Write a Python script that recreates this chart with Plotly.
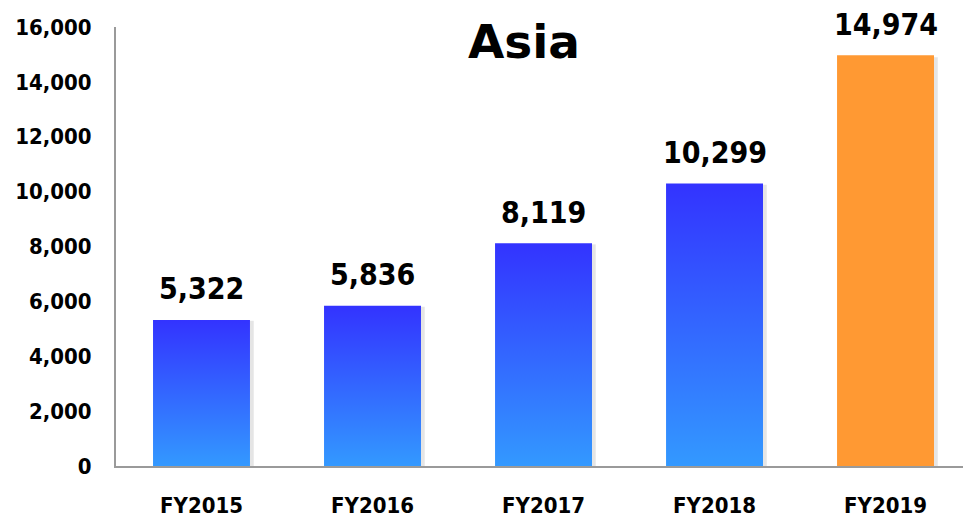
import plotly.graph_objects as go

categories = ["FY2015", "FY2016", "FY2017", "FY2018", "FY2019"]
values = [5322, 5836, 8119, 10299, 14974]
highlight = [False, False, False, False, True]
title_text = "Asia"
y_ticks = [0, 2000, 4000, 6000, 8000, 10000, 12000, 14000, 16000]

BAR_W = 0.567
COND = "DejaVu Sans Condensed, DejaVu Sans, sans-serif"

fig = go.Figure()

for i, (cat, v, hl) in enumerate(zip(categories, values, highlight)):
    x0, x1 = i - BAR_W / 2, i + BAR_W / 2
    # soft shadow
    fig.add_trace(go.Scatter(
        x=[x1, x1 + 0.022, x1 + 0.022, x1, x1], y=[0, 0, v * 0.995, v * 0.995, 0],
        fill="toself", fillcolor="rgba(0,0,0,0.10)", line=dict(width=0),
        mode="lines", hoverinfo="skip", showlegend=False))
    if hl:
        fig.add_trace(go.Bar(x=[i], y=[v], width=BAR_W, marker=dict(color="#FF9933", line=dict(width=0)),
                             showlegend=False, name=cat))
    else:
        fig.add_trace(go.Scatter(
            x=[x0, x1, x1, x0, x0], y=[0, 0, v, v, 0],
            fill="toself", mode="lines", line=dict(width=0),
            fillgradient=dict(type="vertical", colorscale=[[0, "#3399FF"], [0.5, "#3366FF"], [1, "#3333FF"]]),
            name=cat, showlegend=False))
    fig.add_annotation(x=i, y=v, text=f"{v:,}", showarrow=False, yanchor="middle", yshift=31,
                       font=dict(family=COND, size=30, color="black", weight="bold"))

fig.update_layout(
    width=963, height=517,
    margin=dict(l=116, r=0, t=27, b=51),
    paper_bgcolor="white", plot_bgcolor="white",
    showlegend=False,
    barmode="overlay",
    title=dict(text=title_text, x=524 / 963, xanchor="center", y=1 - 42 / 517, yanchor="middle",
               font=dict(family="DejaVu Sans, sans-serif", size=47, color="black", weight="bold")),
    xaxis=dict(range=[-0.5, 4.453], tickvals=list(range(len(categories))), ticktext=categories,
               showgrid=False, zeroline=False, showline=True, linecolor="#9A9A9A", linewidth=2,
               ticks="", ticklabelstandoff=19, automargin=False,
               tickfont=dict(family=COND, size=22, color="black", weight="bold")),
    yaxis=dict(range=[0, 16000], tickvals=y_ticks, ticktext=[f"{t:,}" for t in y_ticks],
               showgrid=False, zeroline=False, showline=True, linecolor="#9A9A9A", linewidth=2,
               ticks="", ticklabelstandoff=18, automargin=False,
               tickfont=dict(family=COND, size=22, color="black", weight="bold")),
)

fig.write_html("out.html", config={"displayModeBar": False},
               post_script="document.body.style.margin='0';")
